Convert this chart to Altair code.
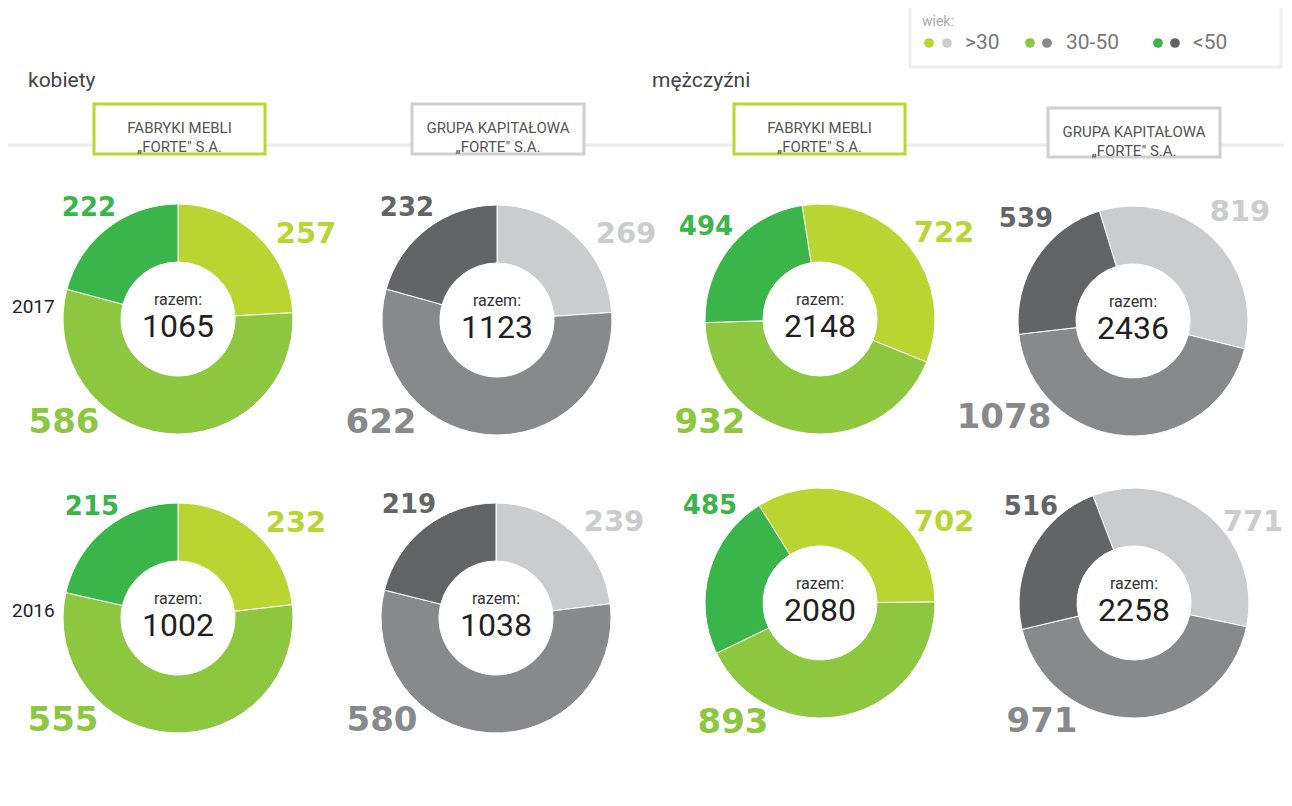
import math
import altair as alt
import pandas as pd

# ---------------- data ----------------
ages = [">30", "30-50", "<50"]
panels = ["K_FM_2017", "K_GK_2017", "M_FM_2017", "M_GK_2017",
          "K_FM_2016", "K_GK_2016", "M_FM_2016", "M_GK_2016"]
panel_group = ["FM", "GK", "FM", "GK", "FM", "GK", "FM", "GK"]
kobiety_fm_2017 = [257, 586, 222]
kobiety_gk_2017 = [269, 622, 232]
mezczyzni_fm_2017 = [722, 932, 494]
mezczyzni_gk_2017 = [819, 1078, 539]
kobiety_fm_2016 = [232, 555, 215]
kobiety_gk_2016 = [239, 580, 219]
mezczyzni_fm_2016 = [702, 893, 485]
mezczyzni_gk_2016 = [771, 971, 516]
series = [kobiety_fm_2017, kobiety_gk_2017, mezczyzni_fm_2017, mezczyzni_gk_2017,
          kobiety_fm_2016, kobiety_gk_2016, mezczyzni_fm_2016, mezczyzni_gk_2016]

rows = []
for p, g, vals in zip(panels, panel_group, series):
    for i, (a, v) in enumerate(zip(ages, vals)):
        rows.append({"panel": p, "group": g, "age": a, "ord": i,
                     "key": g + "|" + a, "value": v})
df = pd.DataFrame(rows)

# ---------------- styles / layout ----------------
green = ["#bad532", "#8dc63f", "#39b54a"]
grey = ["#cbcccd", "#88898b", "#636466"]
color_domain = ["FM|" + a for a in ages] + ["GK|" + a for a in ages]
color_range = green + grey

def X(x):
    return x - 8

def Y(y):
    return y - 8

centers = [(178, 319), (497, 320), (820, 319), (1133, 321),
           (178, 618), (496, 618), (820, 603), (1134, 603)]
start_deg = [0, 0, -9, -17, 0, 0, -32, -21]
label_offsets = [
    [(128, -85), (-114, 104), (-89, -111)],
    [(129, -86), (-116, 103), (-90, -112)],
    [(124, -86), (-110, 104), (-114, -92)],
    [(107, -109), (-129, 97), (-107, -102)],
    [(118, -95), (-115, 103), (-86, -111)],
    [(118, -96), (-114, 103), (-87, -113)],
    [(124, -81), (-87, 120), (-110, -97)],
    [(119, -81), (-92, 119), (-103, -96)],
]
label_sizes = [29, 34, 26]

dummy = pd.DataFrame({"d": [0]})
layers = []

# horizontal separator line
layers.append(alt.Chart(dummy).mark_rule(color="#ebebeb", strokeWidth=3).encode(
    x=alt.value(X(8)), x2=alt.value(X(1292)), y=alt.value(Y(145))))

# header boxes
boxes = [(94, 265, 104, 154, "#bcd631"), (412, 584, 104, 154, "#cfcfcf"),
         (734, 905, 104, 154, "#bcd631"), (1048, 1220, 108, 157, "#cfcfcf")]
box_text = [["FABRYKI MEBLI", "„FORTE\" S.A."], ["GRUPA KAPITAŁOWA", "„FORTE\" S.A."],
            ["FABRYKI MEBLI", "„FORTE\" S.A."], ["GRUPA KAPITAŁOWA", "„FORTE\" S.A."]]
for (x1, x2, y1, y2, c), t in zip(boxes, box_text):
    layers.append(alt.Chart(dummy).mark_rect(fill="white", stroke=c, strokeWidth=3).encode(
        x=alt.value(X(x1)), x2=alt.value(X(x2)), y=alt.value(Y(y1)), y2=alt.value(Y(y2))))
    layers.append(alt.Chart(dummy).mark_text(
        font="Roboto", fontSize=15, color="#555555", align="center", baseline="middle",
        lineHeight=19).encode(
        text=alt.value(t), x=alt.value(X((x1 + x2) / 2)), y=alt.value(Y((y1 + y2) / 2 - 1))))

# section titles
layers.append(alt.Chart(dummy).mark_text(font="Roboto", fontSize=21, color="#444444",
                                         align="left", baseline="middle").encode(
    text=alt.value("kobiety"), x=alt.value(X(28)), y=alt.value(Y(81))))
layers.append(alt.Chart(dummy).mark_text(font="Roboto", fontSize=21, color="#444444",
                                         align="left", baseline="middle").encode(
    text=alt.value("mężczyźni"), x=alt.value(X(652)), y=alt.value(Y(81))))

# year labels
for yr, yy in [("2017", 307), ("2016", 611)]:
    layers.append(alt.Chart(dummy).mark_text(font="Roboto", fontSize=19, color="#222222",
                                             align="left", baseline="middle").encode(
        text=alt.value(yr), x=alt.value(X(12)), y=alt.value(Y(yy))))

# legend box
layers.append(alt.Chart(dummy).mark_rect(fill="white", stroke="#efefef", strokeWidth=3).encode(
    x=alt.value(X(910)), x2=alt.value(X(1281)), y=alt.value(Y(6)), y2=alt.value(Y(67))))
layers.append(alt.Chart(dummy).mark_text(font="Roboto", fontSize=14, color="#aaaaaa",
                                         align="left", baseline="middle").encode(
    text=alt.value("wiek:"), x=alt.value(X(922)), y=alt.value(Y(22))))
legend_x = [(929, 947, 965), (1030, 1047, 1066), (1158, 1175, 1193)]
for i, (dx1, dx2, tx) in enumerate(legend_x):
    layers.append(alt.Chart(dummy).mark_circle(size=95, opacity=1, color=green[i]).encode(
        x=alt.value(X(dx1)), y=alt.value(Y(43))))
    layers.append(alt.Chart(dummy).mark_circle(size=95, opacity=1, color=grey[i]).encode(
        x=alt.value(X(dx2)), y=alt.value(Y(43))))
    layers.append(alt.Chart(dummy).mark_text(font="Roboto", fontSize=21, color="#777777",
                                             align="left", baseline="middle").encode(
        text=alt.value(ages[i]), x=alt.value(X(tx)), y=alt.value(Y(43))))

# donuts
for k, p in enumerate(panels):
    cx, cy = centers[k]
    s = math.radians(start_deg[k])
    base = alt.Chart(df).transform_filter(alt.datum.panel == p)
    layers.append(base.mark_arc(outerRadius=115, innerRadius=57, stroke="white",
                                strokeWidth=1).encode(
        theta=alt.Theta("value:Q", stack="normalize",
                        scale=alt.Scale(range=[s, s + 2 * math.pi])),
        color=alt.Color("key:N", scale=alt.Scale(domain=color_domain, range=color_range),
                        legend=None),
        order=alt.Order("ord:Q"),
        x=alt.value(X(cx)), y=alt.value(Y(cy))))
    palette = green if panel_group[k] == "FM" else grey
    for i, a in enumerate(ages):
        dx, dy = label_offsets[k][i]
        layers.append(base.transform_filter(alt.datum.age == a).mark_text(
            font="DejaVu Sans", fontWeight="bold", fontSize=label_sizes[i],
            color=palette[i], align="center", baseline="middle").encode(
            text=alt.Text("value:Q"),
            x=alt.value(X(cx + dx)), y=alt.value(Y(cy + dy))))
    layers.append(alt.Chart(dummy).mark_text(font="Roboto", fontSize=16, color="#333333",
                                             align="center", baseline="middle").encode(
        text=alt.value("razem:"), x=alt.value(X(cx)), y=alt.value(Y(cy - 19))))
    layers.append(base.transform_aggregate(total="sum(value)").mark_text(
        font="Roboto", fontSize=32, color="#231f20", align="center",
        baseline="middle").encode(
        text=alt.Text("total:Q"), x=alt.value(X(cx)), y=alt.value(Y(cy + 8))))

chart = alt.layer(*layers).resolve_scale(theta="independent").properties(
    width=1276, height=790, padding=0,
    autosize=alt.AutoSizeParams(type="none"),
).configure_view(stroke=None)

chart.save("out.html", embed_options={"renderer": "svg", "actions": False})
